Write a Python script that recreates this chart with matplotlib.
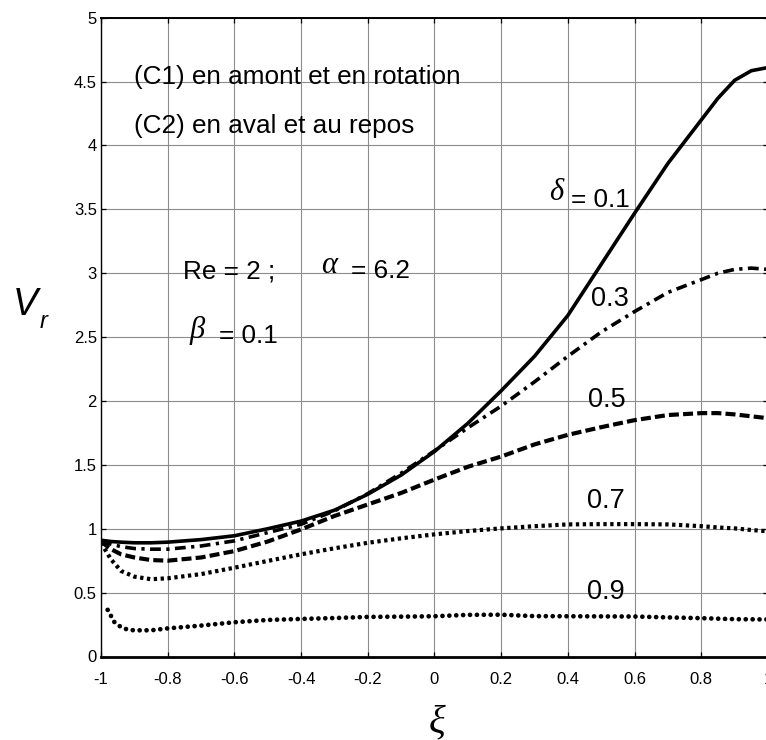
import matplotlib
matplotlib.use("Agg")
import matplotlib.pyplot as plt

# ---------------- data ----------------
xi = [-1.0, -0.97, -0.94, -0.9, -0.85, -0.8, -0.7, -0.6, -0.5, -0.4, -0.3, -0.2, -0.1,
      0.0, 0.1, 0.2, 0.3, 0.4, 0.5, 0.6, 0.7, 0.8, 0.85, 0.9, 0.95, 1.0]

vr_d01 = [0.91, 0.90, 0.895, 0.89, 0.89, 0.895, 0.915, 0.945, 1.0, 1.06, 1.145, 1.27, 1.42,
          1.605, 1.825, 2.08, 2.35, 2.67, 3.07, 3.47, 3.86, 4.2, 4.37, 4.51, 4.585, 4.61]
vr_d03 = [0.90, 0.88, 0.86, 0.845, 0.84, 0.84, 0.865, 0.905, 0.97, 1.035, 1.14, 1.275, 1.435,
          1.61, 1.79, 1.96, 2.15, 2.35, 2.54, 2.70, 2.85, 2.95, 3.0, 3.03, 3.04, 3.03]
vr_d05 = [0.90, 0.84, 0.80, 0.775, 0.755, 0.75, 0.775, 0.825, 0.90, 0.995, 1.10, 1.19, 1.28,
          1.385, 1.485, 1.565, 1.66, 1.735, 1.795, 1.85, 1.89, 1.905, 1.905, 1.895, 1.88, 1.865]
vr_d07 = [0.89, 0.76, 0.67, 0.625, 0.605, 0.612, 0.645, 0.695, 0.748, 0.80, 0.847, 0.89, 0.925,
          0.956, 0.982, 1.003, 1.02, 1.034, 1.036, 1.036, 1.034, 1.02, 1.01, 1.003, 0.99, 0.98]

xi_09 = [-0.98, -0.96, -0.94, -0.92, -0.9, -0.85, -0.8, -0.7, -0.6, -0.5, -0.4, -0.3, -0.2,
         -0.1, 0.0, 0.1, 0.2, 0.3, 0.4, 0.5, 0.6, 0.7, 0.8, 0.9, 1.0]
vr_d09 = [0.365, 0.27, 0.23, 0.21, 0.205, 0.205, 0.22, 0.242, 0.268, 0.286, 0.294, 0.301, 0.31,
          0.312, 0.315, 0.326, 0.327, 0.316, 0.315, 0.314, 0.313, 0.306, 0.30, 0.292, 0.29]

xticks = [-1, -0.8, -0.6, -0.4, -0.2, 0, 0.2, 0.4, 0.6, 0.8, 1]
xticklabels = ["-1", "-0.8", "-0.6", "-0.4", "-0.2", "0", "0.2", "0.4", "0.6", "0.8", "1"]
yticks = [0, 0.5, 1, 1.5, 2, 2.5, 3, 3.5, 4, 4.5, 5]
yticklabels = ["0", "0.5", "1", "1.5", "2", "2.5", "3", "3.5", "4", "4.5", "5"]

curve_labels = ["0.3", "0.5", "0.7", "0.9"]

# ---------------- figure ----------------
SANS = ["Liberation Sans", "DejaVu Sans"]
SERIF = ["Liberation Serif", "DejaVu Serif"]
plt.rcParams["font.family"] = SANS

W, H = 766, 740
fig = plt.figure(figsize=(W / 100, H / 100), dpi=100)
left_px, right_px, top_px, bot_px = 101, 768, 17.7, 656.5
ax = fig.add_axes([left_px / W, 1 - bot_px / H, (right_px - left_px) / W, (bot_px - top_px) / H])

ax.set_xlim(-1, 1)
ax.set_ylim(0, 5)

ax.plot(xi, vr_d01, color="black", lw=2.6, ls="-", solid_capstyle="round")
ax.plot(xi, vr_d03, color="black", lw=2.6, ls=(0, (3.0, 1.5, 0.9, 1.5)), dash_capstyle="butt")
ax.plot(xi, vr_d05, color="black", lw=3.0, ls=(0, (2.4, 1.0)), dash_capstyle="butt")
ax.plot(xi, vr_d07, color="black", lw=3.0, ls=(0, (0.8, 0.85)), dash_capstyle="butt")
ax.plot(xi_09, vr_d09, color="black", lw=3.4, ls=(0, (0.01, 1.45)), dash_capstyle="round")

# grid
ax.set_xticks(xticks)
ax.set_xticklabels(xticklabels)
ax.set_yticks(yticks)
ax.set_yticklabels(yticklabels)
ax.grid(True, color="#8c8c8c", lw=0.8, ls="-")
ax.set_axisbelow(True)

ax.tick_params(axis="both", direction="in", length=3.5, width=0.9, color="black",
               top=True, right=True, labelsize=12)
ax.tick_params(axis="x", pad=11)
ax.tick_params(axis="y", pad=3)

ax.spines["top"].set_linewidth(1.4)
ax.spines["bottom"].set_linewidth(2.0)
ax.spines["left"].set_linewidth(1.0)
ax.spines["right"].set_linewidth(1.0)

# texts
big = 18.8
lab = 19.5
grk = 22
ax.text(-0.901, 4.48, "(C1) en amont et en rotation", fontsize=big, ha="left", va="baseline")
ax.text(-0.901, 4.10, "(C2) en aval et au repos", fontsize=big, ha="left", va="baseline")

ax.text(-0.754, 2.96, "Re = 2 ;", fontsize=big, ha="left", va="baseline")
ax.text(-0.34, 3.0, "α", fontsize=grk, family=SERIF, style="italic", ha="left", va="baseline")
ax.text(-0.25, 2.96, "= 6.2", fontsize=big, ha="left", va="baseline")
ax.text(-0.736, 2.49, "β", fontsize=grk, family=SERIF, style="italic", ha="left", va="baseline")
ax.text(-0.646, 2.45, "= 0.1", fontsize=big, ha="left", va="baseline")

ax.text(0.343, 3.57, "δ", fontsize=grk, family=SERIF, style="italic", ha="left", va="baseline")
ax.text(0.409, 3.52, "= 0.1", fontsize=big, ha="left", va="baseline")

label_x = [0.469, 0.46, 0.457, 0.457]
label_y = [2.74, 1.95, 1.16, 0.45]
for lx, ly, s in zip(label_x, label_y, curve_labels):
    ax.text(lx, ly, s, fontsize=lab, ha="left", va="baseline")

# axis labels
fig.text(13 / W, 1 - 315 / H, "V", fontsize=27, style="italic", ha="left", va="baseline")
fig.text(40 / W, 1 - 328 / H, "r", fontsize=17, style="italic", ha="left", va="baseline")
fig.text(437 / W, 1 - 732 / H, "ξ", fontsize=28, family=SERIF, style="italic",
         ha="center", va="baseline")

fig.savefig("out.png", dpi=100)
